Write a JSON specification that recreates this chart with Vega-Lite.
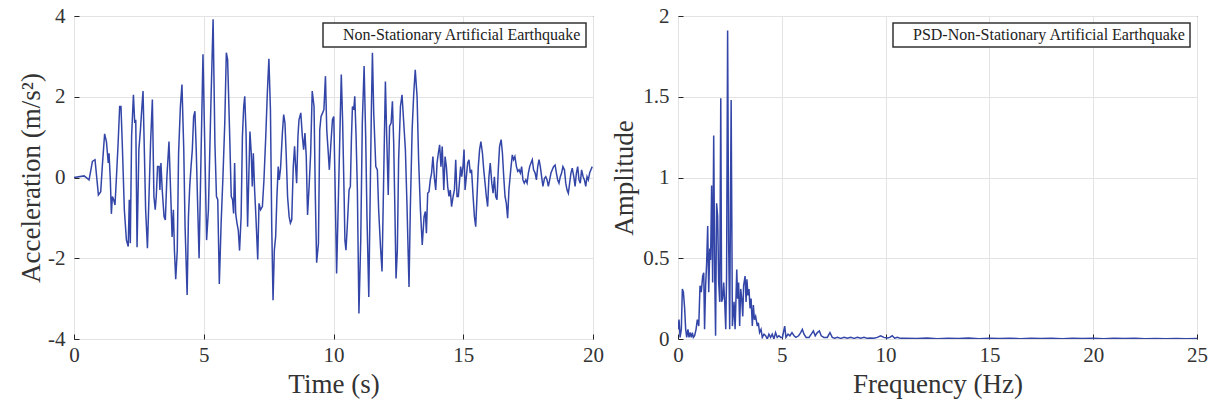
{
"$schema": "https://vega.github.io/schema/vega-lite/v6.json",
"padding": {"left": 17, "top": 4, "right": 0, "bottom": 5},
"bounds": "flush",
"spacing": 85,
"config": {
  "font": "Liberation Serif",
  "view": {"stroke": "#262626", "strokeWidth": 1},
  "axis": {"labelFont": "Liberation Serif", "labelFontSize": 21, "labelColor": "#333333", "labelFlush": false, "titleFont": "Liberation Serif", "titleFontSize": 27, "titleFontWeight": "normal", "titleColor": "#333333", "gridColor": "#e3e3e3", "gridWidth": 1, "domain": false, "tickColor": "#262626", "tickSize": -5, "tickWidth": 1},
  "legend": {"labelFont": "Liberation Serif", "labelFontSize": 16, "labelColor": "#222222", "labelLimit": 0, "strokeColor": "#333333", "strokeWidth": 1.5, "fillColor": "white", "padding": 4, "symbolSize": 0, "symbolStrokeWidth": 0, "symbolOpacity": 0, "labelOffset": 0, "orient": "top-right", "offset": 7, "title": null}
},
"resolve": {"scale": {"color": "independent"}, "legend": {"color": "independent"}},
"hconcat": [
{
  "width": 519, "height": 323,
  "data": {"values": [
{"t":0,"a":0},{"t":0.39,"a":0.04},{"t":0.58,"a":-0.06},{"t":0.71,"a":0.4},{"t":0.81,"a":0.44},{"t":0.94,"a":-0.43},{"t":1.03,"a":-0.35},{"t":1.09,"a":0.27},{"t":1.18,"a":1.08},{"t":1.25,"a":0.89},{"t":1.32,"a":0.36},{"t":1.35,"a":0.6},{"t":1.4,"a":-0.06},{"t":1.44,"a":-0.9},{"t":1.48,"a":-0.47},{"t":1.53,"a":-0.55},{"t":1.58,"a":-0.68},{"t":1.63,"a":-0.06},{"t":1.7,"a":0.85},{"t":1.76,"a":1.76},{"t":1.81,"a":1.76},{"t":1.86,"a":0.85},{"t":1.94,"a":-0.8},{"t":2.02,"a":-1.55},{"t":2.09,"a":-1.71},{"t":2.13,"a":-0.55},{"t":2.17,"a":-1.63},{"t":2.22,"a":1.02},{"t":2.29,"a":2.05},{"t":2.34,"a":1.35},{"t":2.38,"a":1.43},{"t":2.43,"a":-1.73},{"t":2.5,"a":0.69},{"t":2.56,"a":1.18},{"t":2.61,"a":1.68},{"t":2.66,"a":2.14},{"t":2.71,"a":0.69},{"t":2.76,"a":-0.8},{"t":2.83,"a":-1.75},{"t":2.89,"a":-0.47},{"t":2.95,"a":0.85},{"t":3.02,"a":1.93},{"t":3.08,"a":-0.47},{"t":3.13,"a":-0.8},{"t":3.17,"a":-0.47},{"t":3.22,"a":0.27},{"t":3.28,"a":0.27},{"t":3.31,"a":-0.31},{"t":3.35,"a":0.36},{"t":3.4,"a":-0.31},{"t":3.47,"a":-0.97},{"t":3.52,"a":-1.05},{"t":3.58,"a":0.02},{"t":3.66,"a":0.89},{"t":3.73,"a":-0.47},{"t":3.78,"a":-1.47},{"t":3.83,"a":-0.8},{"t":3.87,"a":-1.8},{"t":3.92,"a":-2.52},{"t":3.98,"a":-1.8},{"t":4.03,"a":0.6},{"t":4.1,"a":1.76},{"t":4.16,"a":2.3},{"t":4.23,"a":0.69},{"t":4.28,"a":-1.22},{"t":4.36,"a":-2.91},{"t":4.41,"a":-0.97},{"t":4.46,"a":-0.22},{"t":4.51,"a":0.27},{"t":4.56,"a":0.69},{"t":4.61,"a":1.51},{"t":4.66,"a":1.64},{"t":4.71,"a":0.69},{"t":4.77,"a":-0.8},{"t":4.82,"a":-2.0},{"t":4.88,"a":0.02},{"t":4.97,"a":3.05},{"t":5.05,"a":0.44},{"t":5.11,"a":-1.55},{"t":5.18,"a":-0.8},{"t":5.27,"a":1.68},{"t":5.36,"a":3.92},{"t":5.43,"a":0.85},{"t":5.49,"a":-0.47},{"t":5.54,"a":-0.55},{"t":5.6,"a":-2.64},{"t":5.67,"a":-1.13},{"t":5.74,"a":0.02},{"t":5.81,"a":1.35},{"t":5.87,"a":3.09},{"t":5.92,"a":2.92},{"t":6.0,"a":1.02},{"t":6.06,"a":-0.47},{"t":6.11,"a":-0.55},{"t":6.15,"a":-0.89},{"t":6.19,"a":0.36},{"t":6.23,"a":-0.89},{"t":6.28,"a":-1.13},{"t":6.33,"a":-1.3},{"t":6.38,"a":-1.81},{"t":6.44,"a":-0.97},{"t":6.49,"a":1.02},{"t":6.54,"a":1.76},{"t":6.58,"a":2.01},{"t":6.63,"a":1.1},{"t":6.69,"a":-1.22},{"t":6.73,"a":-0.14},{"t":6.78,"a":1.14},{"t":6.83,"a":0.6},{"t":6.87,"a":-0.22},{"t":6.91,"a":0.6},{"t":6.96,"a":-0.31},{"t":7.01,"a":-0.97},{"t":7.08,"a":-2.03},{"t":7.13,"a":-0.64},{"t":7.19,"a":-0.8},{"t":7.26,"a":-0.72},{"t":7.32,"a":-0.06},{"t":7.39,"a":1.02},{"t":7.45,"a":2.09},{"t":7.51,"a":2.94},{"t":7.57,"a":1.68},{"t":7.62,"a":-1.22},{"t":7.67,"a":-3.04},{"t":7.72,"a":-1.8},{"t":7.77,"a":-1.47},{"t":7.82,"a":-0.47},{"t":7.87,"a":0.27},{"t":7.91,"a":-0.06},{"t":7.96,"a":0.23},{"t":8.03,"a":1.1},{"t":8.08,"a":1.56},{"t":8.13,"a":1.35},{"t":8.18,"a":0.52},{"t":8.23,"a":-0.47},{"t":8.29,"a":-0.97},{"t":8.34,"a":-1.13},{"t":8.39,"a":-1.05},{"t":8.45,"a":0.27},{"t":8.5,"a":0.77},{"t":8.54,"a":0.27},{"t":8.58,"a":-0.14},{"t":8.63,"a":1.02},{"t":8.67,"a":1.43},{"t":8.74,"a":1.6},{"t":8.8,"a":1.02},{"t":8.85,"a":0.69},{"t":8.9,"a":1.1},{"t":8.95,"a":0.52},{"t":9.0,"a":-0.93},{"t":9.06,"a":-0.22},{"t":9.12,"a":0.6},{"t":9.18,"a":2.14},{"t":9.25,"a":1.76},{"t":9.3,"a":-0.47},{"t":9.35,"a":-2.11},{"t":9.42,"a":-1.63},{"t":9.47,"a":1.18},{"t":9.52,"a":1.51},{"t":9.58,"a":1.6},{"t":9.63,"a":1.68},{"t":9.69,"a":2.51},{"t":9.74,"a":1.18},{"t":9.79,"a":0.69},{"t":9.84,"a":0.19},{"t":9.9,"a":0.85},{"t":9.96,"a":1.43},{"t":10.01,"a":1.51},{"t":10.06,"a":-0.14},{"t":10.12,"a":-2.38},{"t":10.19,"a":-0.47},{"t":10.25,"a":1.18},{"t":10.3,"a":2.55},{"t":10.35,"a":1.43},{"t":10.41,"a":-0.47},{"t":10.44,"a":-1.55},{"t":10.48,"a":-1.8},{"t":10.53,"a":-1.22},{"t":10.6,"a":-0.31},{"t":10.65,"a":-0.22},{"t":10.69,"a":0.94},{"t":10.73,"a":1.76},{"t":10.78,"a":1.68},{"t":10.82,"a":2.01},{"t":10.87,"a":1.02},{"t":10.92,"a":-0.31},{"t":10.98,"a":-3.37},{"t":11.05,"a":-1.55},{"t":11.11,"a":1.35},{"t":11.18,"a":2.76},{"t":11.24,"a":1.02},{"t":11.29,"a":-0.97},{"t":11.36,"a":-2.96},{"t":11.42,"a":-0.14},{"t":11.46,"a":1.68},{"t":11.5,"a":3.09},{"t":11.55,"a":1.6},{"t":11.63,"a":0.27},{"t":11.69,"a":0.19},{"t":11.74,"a":-0.8},{"t":11.81,"a":-1.71},{"t":11.87,"a":-2.33},{"t":11.93,"a":-0.14},{"t":12.0,"a":2.38},{"t":12.05,"a":1.02},{"t":12.11,"a":-0.43},{"t":12.16,"a":1.27},{"t":12.22,"a":1.35},{"t":12.27,"a":1.89},{"t":12.32,"a":0.85},{"t":12.37,"a":-0.97},{"t":12.41,"a":-2.5},{"t":12.46,"a":-1.8},{"t":12.51,"a":0.44},{"t":12.58,"a":1.76},{"t":12.64,"a":2.05},{"t":12.7,"a":1.43},{"t":12.77,"a":0.69},{"t":12.83,"a":-0.64},{"t":12.91,"a":-2.71},{"t":12.96,"a":-0.8},{"t":13.03,"a":1.18},{"t":13.09,"a":2.05},{"t":13.15,"a":2.67},{"t":13.22,"a":2.01},{"t":13.28,"a":0.44},{"t":13.35,"a":-0.8},{"t":13.42,"a":-1.67},{"t":13.49,"a":-0.97},{"t":13.54,"a":-0.84},{"t":13.58,"a":-1.38},{"t":13.63,"a":-0.39},{"t":13.68,"a":-0.35},{"t":13.73,"a":-0.06},{"t":13.78,"a":0.11},{"t":13.83,"a":0.52},{"t":13.89,"a":-0.02},{"t":13.94,"a":-0.31},{"t":13.99,"a":0.36},{"t":14.04,"a":0.6},{"t":14.09,"a":0.81},{"t":14.14,"a":0.27},{"t":14.19,"a":0.77},{"t":14.25,"a":-0.31},{"t":14.3,"a":0.52},{"t":14.35,"a":0.27},{"t":14.4,"a":-0.22},{"t":14.45,"a":-0.47},{"t":14.5,"a":-0.31},{"t":14.55,"a":-0.72},{"t":14.61,"a":-0.47},{"t":14.66,"a":-0.31},{"t":14.71,"a":0.44},{"t":14.76,"a":-0.47},{"t":14.81,"a":-0.47},{"t":14.9,"a":0.27},{"t":14.94,"a":0.02},{"t":14.99,"a":0.27},{"t":15.03,"a":0.69},{"t":15.07,"a":-0.31},{"t":15.12,"a":0.02},{"t":15.17,"a":0.36},{"t":15.22,"a":0.44},{"t":15.27,"a":0.11},{"t":15.32,"a":0.19},{"t":15.38,"a":-0.47},{"t":15.43,"a":-0.97},{"t":15.48,"a":-1.22},{"t":15.53,"a":-0.47},{"t":15.58,"a":0.27},{"t":15.63,"a":0.69},{"t":15.68,"a":0.89},{"t":15.74,"a":0.6},{"t":15.79,"a":0.19},{"t":15.84,"a":-0.14},{"t":15.89,"a":-0.47},{"t":15.94,"a":-0.72},{"t":15.99,"a":0.02},{"t":16.04,"a":0.36},{"t":16.1,"a":-0.14},{"t":16.15,"a":-0.39},{"t":16.2,"a":0.02},{"t":16.25,"a":-0.47},{"t":16.3,"a":-0.55},{"t":16.35,"a":0.19},{"t":16.4,"a":0.77},{"t":16.46,"a":0.94},{"t":16.51,"a":0.6},{"t":16.56,"a":0.02},{"t":16.61,"a":-0.47},{"t":16.66,"a":-0.64},{"t":16.71,"a":-1.01},{"t":16.76,"a":-0.31},{"t":16.83,"a":0.19},{"t":16.89,"a":0.56},{"t":16.94,"a":0.44},{"t":16.99,"a":0.52},{"t":17.05,"a":0.27},{"t":17.1,"a":0.15},{"t":17.15,"a":0.19},{"t":17.2,"a":0.11},{"t":17.25,"a":0.27},{"t":17.3,"a":-0.06},{"t":17.35,"a":-0.14},{"t":17.41,"a":-0.06},{"t":17.46,"a":-0.14},{"t":17.51,"a":0.11},{"t":17.56,"a":0.27},{"t":17.61,"a":0.36},{"t":17.66,"a":0.44},{"t":17.71,"a":0.19},{"t":17.77,"a":0.11},{"t":17.82,"a":-0.06},{"t":17.87,"a":0.27},{"t":17.92,"a":0.44},{"t":17.97,"a":0.27},{"t":18.02,"a":0.02},{"t":18.07,"a":-0.22},{"t":18.13,"a":-0.02},{"t":18.18,"a":0.02},{"t":18.23,"a":-0.06},{"t":18.28,"a":-0.22},{"t":18.33,"a":-0.06},{"t":18.38,"a":0.11},{"t":18.43,"a":0.19},{"t":18.48,"a":0.27},{"t":18.54,"a":0.31},{"t":18.59,"a":0.11},{"t":18.64,"a":-0.06},{"t":18.69,"a":-0.14},{"t":18.74,"a":0.02},{"t":18.79,"a":0.11},{"t":18.84,"a":0.27},{"t":18.9,"a":0.19},{"t":18.95,"a":-0.14},{"t":19.0,"a":-0.31},{"t":19.05,"a":-0.39},{"t":19.1,"a":-0.14},{"t":19.15,"a":0.11},{"t":19.2,"a":0.23},{"t":19.26,"a":0.02},{"t":19.31,"a":-0.22},{"t":19.36,"a":0.11},{"t":19.41,"a":0.27},{"t":19.46,"a":-0.06},{"t":19.51,"a":-0.14},{"t":19.56,"a":0.19},{"t":19.62,"a":0.02},{"t":19.67,"a":-0.06},{"t":19.72,"a":-0.22},{"t":19.77,"a":0.02},{"t":19.82,"a":-0.06},{"t":19.87,"a":0.11},{"t":19.92,"a":0.19},{"t":19.97,"a":0.27}
  ]},
  "mark": {"type": "line", "strokeWidth": 1.5, "clip": true},
  "encoding": {
    "x": {"field": "t", "type": "quantitative", "scale": {"domain": [0, 20], "nice": false, "zero": false}, "axis": {"values": [0, 5, 10, 15, 20], "title": "Time (s)", "labelPadding": 10, "titlePadding": 6}},
    "y": {"field": "a", "type": "quantitative", "scale": {"domain": [-4, 4], "nice": false}, "axis": {"values": [-4, -2, 0, 2, 4], "labelExpr": "replace(datum.label, '−', '-')", "title": "Acceleration (m/s²)", "labelPadding": 14, "titlePadding": 2}},
    "color": {"datum": "Non-Stationary Artificial Earthquake", "scale": {"range": ["#3346a8"]}, "legend": {"title": null}}
  }
},
{
  "width": 519, "height": 323,
  "data": {"values": [
{"f":0,"p":0.06},{"f":0.05,"p":0.12},{"f":0.1,"p":0.01},{"f":0.16,"p":0.06},{"f":0.21,"p":0.31},{"f":0.26,"p":0.29},{"f":0.32,"p":0.19},{"f":0.37,"p":0.06},{"f":0.42,"p":0.01},{"f":0.48,"p":0.06},{"f":0.53,"p":0.01},{"f":0.58,"p":0.04},{"f":0.64,"p":0.01},{"f":0.69,"p":0.04},{"f":0.74,"p":0.01},{"f":0.8,"p":0.02},{"f":0.87,"p":0.06},{"f":0.93,"p":0.12},{"f":1.0,"p":0.08},{"f":1.06,"p":0.33},{"f":1.12,"p":0.29},{"f":1.19,"p":0.39},{"f":1.24,"p":0.41},{"f":1.28,"p":0.06},{"f":1.33,"p":0.33},{"f":1.38,"p":0.47},{"f":1.43,"p":0.7},{"f":1.48,"p":0.29},{"f":1.53,"p":0.56},{"f":1.57,"p":0.49},{"f":1.62,"p":0.95},{"f":1.67,"p":0.35},{"f":1.72,"p":1.26},{"f":1.77,"p":0.39},{"f":1.81,"p":0.02},{"f":1.86,"p":0.84},{"f":1.91,"p":0.76},{"f":1.96,"p":0.35},{"f":2.01,"p":0.23},{"f":2.06,"p":1.49},{"f":2.1,"p":0.23},{"f":2.15,"p":0.25},{"f":2.2,"p":0.35},{"f":2.25,"p":0.23},{"f":2.3,"p":0.06},{"f":2.34,"p":0.39},{"f":2.39,"p":1.91},{"f":2.44,"p":0.6},{"f":2.49,"p":0.06},{"f":2.56,"p":1.48},{"f":2.62,"p":0.08},{"f":2.7,"p":0.23},{"f":2.75,"p":0.06},{"f":2.78,"p":0.19},{"f":2.83,"p":0.43},{"f":2.87,"p":0.25},{"f":2.92,"p":0.35},{"f":2.97,"p":0.08},{"f":3.02,"p":0.31},{"f":3.07,"p":0.25},{"f":3.12,"p":0.14},{"f":3.16,"p":0.33},{"f":3.23,"p":0.39},{"f":3.28,"p":0.23},{"f":3.32,"p":0.37},{"f":3.37,"p":0.27},{"f":3.42,"p":0.31},{"f":3.47,"p":0.19},{"f":3.52,"p":0.25},{"f":3.58,"p":0.08},{"f":3.63,"p":0.21},{"f":3.68,"p":0.12},{"f":3.74,"p":0.14},{"f":3.82,"p":0.08},{"f":3.87,"p":0.1},{"f":3.93,"p":0.04},{"f":4.0,"p":0.06},{"f":4.06,"p":0.01},{"f":4.14,"p":0.03},{"f":4.22,"p":0.02},{"f":4.3,"p":0.0},{"f":4.38,"p":0.03},{"f":4.46,"p":0.01},{"f":4.54,"p":0.03},{"f":4.62,"p":0.0},{"f":4.7,"p":0.04},{"f":4.78,"p":0.01},{"f":4.86,"p":0.02},{"f":4.95,"p":0.01},{"f":5.03,"p":0.01},{"f":5.14,"p":0.08},{"f":5.2,"p":0.01},{"f":5.3,"p":0.03},{"f":5.39,"p":0.02},{"f":5.49,"p":0.04},{"f":5.59,"p":0.02},{"f":5.68,"p":0.01},{"f":5.81,"p":0.02},{"f":5.91,"p":0.04},{"f":5.99,"p":0.06},{"f":6.07,"p":0.03},{"f":6.17,"p":0.01},{"f":6.31,"p":0.01},{"f":6.42,"p":0.03},{"f":6.52,"p":0.05},{"f":6.61,"p":0.02},{"f":6.71,"p":0.04},{"f":6.81,"p":0.05},{"f":6.9,"p":0.02},{"f":7.03,"p":0.01},{"f":7.19,"p":0.01},{"f":7.32,"p":0.04},{"f":7.43,"p":0.01},{"f":7.55,"p":0.005},{"f":7.68,"p":0.01},{"f":7.84,"p":0.004},{"f":8.0,"p":0.01},{"f":8.16,"p":0.005},{"f":8.32,"p":0.01},{"f":8.48,"p":0.004},{"f":8.64,"p":0.01},{"f":8.8,"p":0.005},{"f":8.96,"p":0.01},{"f":9.12,"p":0.004},{"f":9.28,"p":0.006},{"f":9.44,"p":0.005},{"f":9.6,"p":0.01},{"f":9.76,"p":0.02},{"f":9.92,"p":0.01},{"f":10.08,"p":0.006},{"f":10.2,"p":0.01},{"f":10.32,"p":0.02},{"f":10.44,"p":0.005},{"f":10.56,"p":0.01},{"f":10.72,"p":0.004},{"f":10.89,"p":0.005},{"f":11.5,"p":0.003},{"f":12,"p":0.006},{"f":12.5,"p":0.002},{"f":13,"p":0.005},{"f":13.5,"p":0.003},{"f":14,"p":0.006},{"f":14.5,"p":0.002},{"f":15,"p":0.004},{"f":15.5,"p":0.003},{"f":16,"p":0.005},{"f":16.5,"p":0.002},{"f":17,"p":0.004},{"f":17.5,"p":0.003},{"f":18,"p":0.004},{"f":18.5,"p":0.002},{"f":19,"p":0.004},{"f":19.5,"p":0.003},{"f":20,"p":0.004},{"f":20.5,"p":0.002},{"f":21,"p":0.004},{"f":21.5,"p":0.003},{"f":22,"p":0.004},{"f":22.5,"p":0.002},{"f":23,"p":0.003},{"f":23.5,"p":0.002},{"f":24,"p":0.003},{"f":24.5,"p":0.002},{"f":25,"p":0.003}
  ]},
  "mark": {"type": "line", "strokeWidth": 1.5, "clip": true},
  "encoding": {
    "x": {"field": "f", "type": "quantitative", "scale": {"domain": [0, 25], "nice": false}, "axis": {"values": [0, 5, 10, 15, 20, 25], "title": "Frequency (Hz)", "labelPadding": 10, "titlePadding": 6}},
    "y": {"field": "p", "type": "quantitative", "scale": {"domain": [0, 2], "nice": false}, "axis": {"values": [0, 0.5, 1, 1.5, 2], "format": "~g", "title": "Amplitude", "labelPadding": 14, "titlePadding": 4}},
    "color": {"datum": "PSD-Non-Stationary Artificial Earthquake", "scale": {"range": ["#3346a8"]}, "legend": {"title": null}}
  }
}
]
}
